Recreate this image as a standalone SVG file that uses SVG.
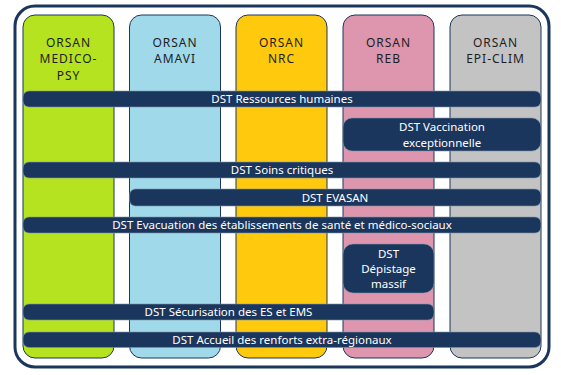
<svg xmlns="http://www.w3.org/2000/svg" width="561" height="375" viewBox="0 0 561 375">
<style>
.col{stroke:#1b365d;stroke-width:1}
.hd{font-family:"Noto Sans","Liberation Sans",sans-serif;font-size:12px;fill:#1e1e1e;text-anchor:middle;letter-spacing:1px}
.bar{fill:#1b365d;stroke:#7f93a8;stroke-width:0.6}
.bt{font-family:"Noto Sans","Liberation Sans",sans-serif;font-size:11.5px;fill:#ffffff;text-anchor:middle}
</style>
<rect width="561" height="375" fill="#ffffff"/>
<rect id="frame" x="15" y="6" width="534" height="361" rx="20" fill="#ffffff" stroke="#1b365d" stroke-width="3"/>
<g id="col-medico-psy">
<rect class="col" x="23" y="15" width="91" height="343" rx="12" fill="#b5e31f"/>
<text class="hd" x="68.5" y="46.5">ORSAN</text>
<text class="hd" x="68.5" y="63">MEDICO-</text>
<text class="hd" x="68.5" y="79.5">PSY</text>
</g>
<g id="col-amavi">
<rect class="col" x="129.5" y="15" width="91" height="343" rx="12" fill="#9fd9ea"/>
<text class="hd" x="175" y="46.5">ORSAN</text>
<text class="hd" x="175" y="63">AMAVI</text>
</g>
<g id="col-nrc">
<rect class="col" x="236" y="15" width="91" height="343" rx="12" fill="#ffc90e"/>
<text class="hd" x="281.5" y="46.5">ORSAN</text>
<text class="hd" x="281.5" y="63">NRC</text>
</g>
<g id="col-reb">
<rect class="col" x="343" y="15" width="91" height="343" rx="12" fill="#dd96ae"/>
<text class="hd" x="388.5" y="46.5">ORSAN</text>
<text class="hd" x="388.5" y="63">REB</text>
</g>
<g id="col-epi-clim">
<rect class="col" x="450" y="15" width="91" height="343" rx="12" fill="#c3c3c3"/>
<text class="hd" x="495.5" y="46.5">ORSAN</text>
<text class="hd" x="495.5" y="63">EPI-CLIM</text>
</g>
<g id="dst-rh">
<rect class="bar" x="23" y="91" width="518" height="16" rx="6"/>
<text class="bt" x="282" y="103">DST Ressources humaines</text>
</g>
<g id="dst-vaccination">
<rect class="bar" x="343" y="118" width="198" height="33" rx="9"/>
<text class="bt" x="442" y="131">DST Vaccination</text>
<text class="bt" x="442" y="147">exceptionnelle</text>
</g>
<g id="dst-soins-critiques">
<rect class="bar" x="23" y="162" width="518" height="16" rx="6"/>
<text class="bt" x="282" y="174">DST Soins critiques</text>
</g>
<g id="dst-evasan">
<rect class="bar" x="129.5" y="189" width="411.5" height="17" rx="6"/>
<text class="bt" x="335" y="201.5">DST EVASAN</text>
</g>
<g id="dst-evacuation">
<rect class="bar" x="23" y="217" width="518" height="16" rx="6"/>
<text class="bt" x="282" y="229">DST Evacuation des établissements de santé et médico-sociaux</text>
</g>
<g id="dst-depistage">
<rect class="bar" x="343" y="244" width="91" height="49" rx="10"/>
<text class="bt" x="388.5" y="258">DST</text>
<text class="bt" x="388.5" y="273">Dépistage</text>
<text class="bt" x="388.5" y="288">massif</text>
</g>
<g id="dst-securisation">
<rect class="bar" x="23" y="304" width="411" height="16" rx="6"/>
<text class="bt" x="228.5" y="316">DST Sécurisation des ES et EMS</text>
</g>
<g id="dst-accueil">
<rect class="bar" x="23" y="332" width="518" height="15.5" rx="6"/>
<text class="bt" x="282" y="344">DST Accueil des renforts extra-régionaux</text>
</g>
<g id="connectors"/>
</svg>
